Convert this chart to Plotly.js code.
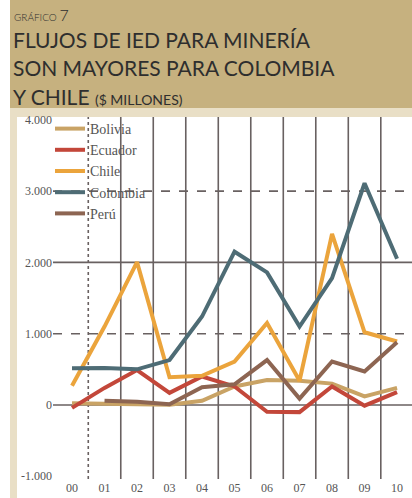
<!DOCTYPE html>
<html>
<head>
<meta charset="utf-8">
<script src="https://cdn.plot.ly/plotly-3.0.1.min.js"></script>
<style>
  html, body { margin: 0; padding: 0; background: #fff; }
  #chart { width: 412px; height: 498px; }
</style>
</head>
<body>
<div id="chart"></div>
<script>
// data (US$ millones)
const years = ['00', '01', '02', '03', '04', '05', '06', '07', '08', '09', '10'];
const bolivia  = [25, 20, 20, 5, 60, 260, 350, 340, 300, 120, 240];
const ecuador  = [-40, 240, 490, 170, 400, 260, -95, -100, 260, -10, 180];
const chile    = [270, 1100, 2005, 390, 410, 610, 1150, 340, 2400, 1020, 890];
const colombia = [515, 520, 500, 630, 1240, 2150, 1860, 1100, 1780, 3110, 2050];
const peru     = [null, 60, 45, 10, 250, 290, 630, 90, 610, 470, 880];

const yTicks = [-1000, 0, 1000, 2000, 3000, 4000];
const yTickText = ['-1.000', '0', '1.000', '2.000', '3.000', '4.000'];

const seriesNames = ['Bolivia', 'Ecuador', 'Chile', 'Colombia', 'Perú'];
const seriesValues = [bolivia, ecuador, chile, colombia, peru];
const seriesColors = ['#c9a365', '#c3473a', '#eba43c', '#4e6c75', '#8d6552'];

// page geometry in pixels
const W = 412, H = 498, L = 53, R = 0, T = 117, B = 19;
const pw = W - L - R, ph = H - T - B;
const px = x => (x - L) / pw;
const py = y => (H - B - y) / ph;

const traces = seriesNames.map((name, i) => ({
  x: years,
  y: seriesValues[i],
  name: name,
  type: 'scatter',
  mode: 'lines',
  line: { color: seriesColors[i], width: 4 },
  connectgaps: false
}));

const gridColor = '#696161';
const shapes = [
  // header band
  { type: 'rect', xref: 'paper', yref: 'paper', x0: px(10), x1: px(412), y0: py(108), y1: py(0),
    fillcolor: '#c6b17f', line: { width: 0 }, layer: 'below' },
  { type: 'rect', xref: 'paper', yref: 'paper', x0: px(10), x1: px(412), y0: py(117), y1: py(108),
    fillcolor: '#e9dfc6', line: { width: 0 }, layer: 'below' },
  { type: 'rect', xref: 'paper', yref: 'paper', x0: px(10), x1: px(17), y0: py(498), y1: py(108),
    fillcolor: '#e9dfc6', line: { width: 0 }, layer: 'below' }
];

// horizontal grid: solid at 0 and 2000, dashed at 1000 and 3000
[0, 1000, 2000, 3000].forEach(v => {
  shapes.push({ type: 'line', xref: 'paper', yref: 'y', x0: 0, x1: 1, y0: v, y1: v,
    line: { color: gridColor, width: 1.6, dash: (v / 1000) % 2 ? 'dash' : 'solid' }, layer: 'below' });
});
// vertical grid between the years
years.slice(0, -1).forEach((yr, i) => {
  shapes.push({ type: 'line', xref: 'x', yref: 'paper', x0: i + 0.5, x1: i + 0.5, y0: 0, y1: 1,
    line: { color: gridColor, width: 1.6, dash: i === 0 ? 'dot' : 'solid' }, layer: 'below' });
});

const titleFont = { family: 'Lato, "Open Sans", sans-serif', color: '#2e2e2e', weight: 400 };
const annotations = [
  { text: 'GRÁFICO <span style="font-size:16px">7</span>', x: px(12), y: py(15),
    font: Object.assign({}, titleFont, { size: 10, weight: 300 }) },
  { text: 'FLUJOS DE IED PARA MINERÍA', x: px(11), y: py(40),
    font: Object.assign({}, titleFont, { size: 21 }) },
  { text: 'SON MAYORES PARA COLOMBIA', x: px(11), y: py(68),
    font: Object.assign({}, titleFont, { size: 21 }) },
  { text: 'Y CHILE <span style="font-size:14px">($ MILLONES)</span>', x: px(11), y: py(96),
    font: Object.assign({}, titleFont, { size: 21 }) }
].map(a => Object.assign({ xref: 'paper', yref: 'paper', xanchor: 'left', yanchor: 'middle',
  showarrow: false, align: 'left' }, a));

const tickFont = { family: '"Liberation Serif", "Times New Roman", serif', size: 12, color: '#555' };

const layout = {
  width: W,
  height: H,
  margin: { l: L, r: R, t: T, b: B, pad: 0 },
  paper_bgcolor: '#ffffff',
  plot_bgcolor: 'rgba(0,0,0,0)',
  showlegend: true,
  legend: {
    x: px(50), y: py(113), xanchor: 'left', yanchor: 'top',
    bgcolor: 'rgba(0,0,0,0)', borderwidth: 0,
    font: { family: '"Liberation Serif", "Times New Roman", serif', size: 14, color: '#555' },
    tracegroupgap: 0
  },
  xaxis: {
    type: 'category',
    range: [-0.585, 10.46],
    showgrid: false, zeroline: false, showline: false,
    ticks: '', tickfont: tickFont, fixedrange: true
  },
  yaxis: {
    range: [-1038, 4039],
    tickvals: yTicks, ticktext: yTickText,
    showgrid: false, zeroline: false, showline: false,
    ticks: '', tickfont: tickFont, fixedrange: true
  },
  shapes: shapes,
  annotations: annotations
};

Plotly.newPlot('chart', traces, layout, { displayModeBar: false, staticPlot: true });
</script>
</body>
</html>
